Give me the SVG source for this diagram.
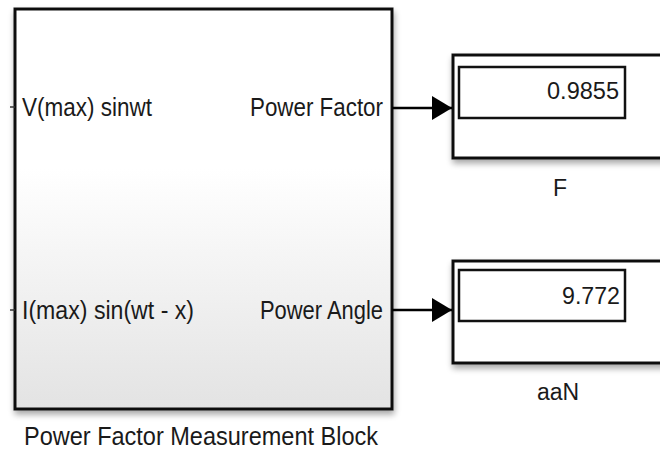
<svg xmlns="http://www.w3.org/2000/svg" width="660" height="455" viewBox="0 0 660 455">
<defs>
<linearGradient id="bg" x1="0" y1="0" x2="0" y2="1">
<stop offset="0" stop-color="#ffffff"/>
<stop offset="0.4" stop-color="#ffffff"/>
<stop offset="1" stop-color="#e3e3e3"/>
</linearGradient>
<filter id="sh" x="-10%" y="-10%" width="120%" height="130%">
<feGaussianBlur in="SourceAlpha" stdDeviation="3"/>
<feOffset dx="1" dy="4" result="b"/>
<feComponentTransfer><feFuncA type="linear" slope="0.35"/></feComponentTransfer>
<feMerge><feMergeNode/><feMergeNode in="SourceGraphic"/></feMerge>
</filter>
<marker id="arr" markerWidth="20" markerHeight="24" refX="20" refY="12" orient="auto" markerUnits="userSpaceOnUse">
<path d="M0,0 L20,12 L0,24 Z" fill="#000"/>
</marker>
<style>
.t{font-family:"Liberation Sans",Arial,sans-serif;fill:#1a1a1a;}
.blk{stroke:#111;stroke-width:3;}
.box{fill:#fff;stroke:#111;stroke-width:3;}
.inner{fill:#fff;stroke:#111;stroke-width:2.5;}
.wire{stroke:#000;stroke-width:2.5;fill:none;}
</style>
</defs>
<g id="pfblock">
<rect x="15" y="9" width="377" height="400" fill="url(#bg)" class="blk" filter="url(#sh)"/>
<line x1="10" y1="107" x2="15" y2="107" stroke="#333" stroke-width="1.5"/>
<line x1="10" y1="310" x2="15" y2="310" stroke="#333" stroke-width="1.5"/>
<text class="t" x="22" y="116" font-size="26" textLength="130" lengthAdjust="spacingAndGlyphs">V(max) sinwt</text>
<text class="t" x="22" y="319" font-size="26" textLength="172" lengthAdjust="spacingAndGlyphs">I(max) sin(wt - x)</text>
<text class="t" x="250" y="116" font-size="26" textLength="133" lengthAdjust="spacingAndGlyphs">Power Factor</text>
<text class="t" x="260" y="319" font-size="26" textLength="123" lengthAdjust="spacingAndGlyphs">Power Angle</text>
<text class="t" x="24" y="445" font-size="26" textLength="354" lengthAdjust="spacingAndGlyphs">Power Factor Measurement Block</text>
</g>
<g id="displayF">
<rect x="453" y="55" width="220" height="103" class="box" filter="url(#sh)"/>
<rect x="459" y="67" width="166" height="51" class="inner"/>
<text class="t" x="619" y="99" font-size="24" text-anchor="end" textLength="72" lengthAdjust="spacingAndGlyphs">0.9855</text>
<text class="t" x="560" y="196" font-size="23" text-anchor="middle">F</text>
</g>
<g id="displayN">
<rect x="453" y="261" width="220" height="102" class="box" filter="url(#sh)"/>
<rect x="459" y="270" width="166" height="51" class="inner"/>
<text class="t" x="620" y="304" font-size="24" text-anchor="end" textLength="58" lengthAdjust="spacingAndGlyphs">9.772</text>
<text class="t" x="558" y="400" font-size="23" text-anchor="middle">aaN</text>
</g>
<g id="connectors">
<line x1="392" y1="108" x2="452" y2="108" class="wire" marker-end="url(#arr)"/>
<line x1="392" y1="310" x2="452" y2="310" class="wire" marker-end="url(#arr)"/>
</g>
</svg>
